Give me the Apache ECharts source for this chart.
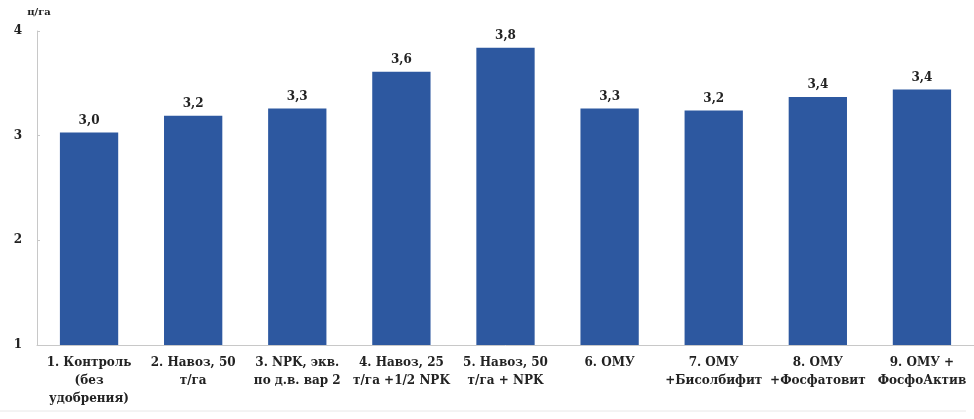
<!DOCTYPE html>
<html>
<head>
<meta charset="utf-8">
<script src="https://cdn.jsdelivr.net/npm/echarts@6/dist/echarts.min.js"></script>
<style>
	html, body { margin: 0; padding: 0; background: #fff; }
	#chart { width: 974px; height: 419px; }
</style>
</head>
<body>
<div id="chart"></div>
<script>
// варианты опыта
const categories = [
	'1. Контроль\n(без\nудобрения)',
	'2. Навоз, 50\nт/га',
	'3. NPK, экв.\nпо д.в. вар 2',
	'4. Навоз, 25\nт/га +1/2 NPK',
	'5. Навоз, 50\nт/га + NPK',
	'6. ОМУ',
	'7. ОМУ\n+Бисолбифит',
	'8. ОМУ\n+Фосфатовит',
	'9. ОМУ +\nФосфоАктив',
];
// урожайность, ц/га
const yieldValues = [3.03, 3.19, 3.26, 3.61, 3.84, 3.26, 3.24, 3.37, 3.44];
const yTicks = [1, 2, 3, 4];
const unitName = 'ц/га';

const font = '"DejaVu Serif", "Liberation Serif", serif';
const textColor = '#222';

const chart = echarts.init(document.getElementById('chart'));
chart.setOption({
	animation: false,
	textStyle: { fontFamily: font },
	grid: { left: 37, right: 0, top: 31, bottom: 74 },
	graphic: [
		{
			type: 'line',
			shape: { x1: 0, y1: 411, x2: 966, y2: 411 },
			style: { stroke: '#e8e8e8', lineWidth: 1 },
			silent: true,
		},
	],
	xAxis: {
		type: 'category',
		data: categories,
		axisLine: { lineStyle: { color: '#c8c8c8', width: 1 } },
		axisTick: { show: false },
		axisLabel: {
			interval: 0,
			margin: 9,
			fontFamily: font,
			fontWeight: 'bold',
			fontSize: 12,
			lineHeight: 18,
			color: textColor,
		},
	},
	yAxis: {
		type: 'value',
		min: yTicks[0],
		max: yTicks[yTicks.length - 1],
		interval: 1,
		name: unitName,
		nameLocation: 'end',
		nameGap: 14,
		nameTextStyle: {
			fontFamily: font,
			fontWeight: 'bold',
			fontSize: 10,
			color: textColor,
			align: 'center',
			padding: [0, 0, 0, 4],
		},
		splitLine: { show: false },
		axisLine: { show: true, lineStyle: { color: '#c8c8c8', width: 1 } },
		axisTick: { show: true, inside: true, length: 3, lineStyle: { color: '#c8c8c8' } },
		axisLabel: {
			margin: 15,
			fontFamily: font,
			fontWeight: 'bold',
			fontSize: 12,
			color: textColor,
		},
	},
	series: [
		{
			type: 'bar',
			data: yieldValues,
			barWidth: '56%',
			itemStyle: { color: '#2d58a0' },
			label: {
				show: true,
				position: 'top',
				distance: 6,
				fontFamily: font,
				fontWeight: 'bold',
				fontSize: 12,
				color: textColor,
				formatter: (p) => p.value.toFixed(1).replace('.', ','),
			},
		},
	],
});
</script>
</body>
</html>
